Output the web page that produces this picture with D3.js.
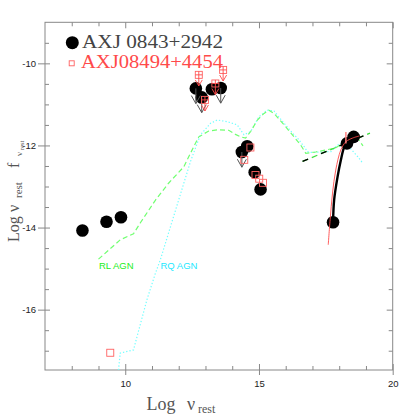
<!DOCTYPE html>
<html>
<head>
<meta charset="utf-8">
<script src="https://cdn.jsdelivr.net/npm/d3@7"></script>
<style>
body { margin: 0; background: #fff; }
</style>
</head>
<body>
<div id="container"></div>
<script>
// AXJ 0843+2942 photometry (log nu, log nu f_nu), 1 = upper limit
var axjX = [8.40, 9.30, 9.84, 12.64, 12.86, 13.24, 13.57, 14.56, 14.36, 14.84, 15.06, 17.77, 18.29, 18.54];
var axjY = [-14.07, -13.86, -13.75, -10.61, -10.83, -10.63, -10.60, -12.02, -12.16, -12.65, -13.07, -13.87, -11.95, -11.79];
var axjLimit = [0, 0, 0, 1, 1, 0, 1, 0, 1, 0, 0, 0, 0, 0];

// AXJ08494+4454 photometry
var axj2X = [12.75, 12.98, 13.37, 13.66, 14.68, 14.45, 14.87, 15.01, 15.15, 9.44];
var axj2Y = [-10.28, -10.89, -10.49, -10.16, -12.05, -12.35, -12.72, -12.81, -12.91, -17.05];
var axj2Limit = [1, 1, 1, 1, 0, 0, 0, 0, 0, 0];

// radio loud template
var rlX = [9.00, 9.81, 10.31, 10.56, 11.13, 11.62, 12.19, 12.56, 12.75, 13.12, 13.44, 13.87, 14.12, 14.31, 14.50, 14.69, 14.94, 15.19, 15.37, 15.56, 15.94, 16.31, 16.56, 16.75, 17.12, 17.87, 18.25, 18.51, 18.74, 18.89];
var rlY = [-14.77, -14.30, -14.15, -13.89, -13.33, -12.92, -12.52, -12.03, -11.79, -11.65, -11.62, -11.63, -11.73, -11.79, -11.82, -11.66, -11.38, -11.22, -11.14, -11.22, -11.50, -11.79, -11.99, -12.19, -12.16, -12.06, -11.89, -11.77, -11.87, -12.01];

// radio quiet template
var rqX = [9.75, 9.81, 10.31, 10.44, 10.81, 11.13, 11.31, 12.19, 12.44, 12.81, 13.19, 13.44, 13.81, 14.19, 14.44, 14.69, 15.00, 15.31, 15.56, 15.94, 16.31, 16.44, 16.69, 16.81, 16.94, 17.69, 17.94, 18.19, 18.36, 18.69, 18.88];
var rqY = [-17.47, -17.06, -16.98, -16.66, -15.76, -15.11, -14.79, -12.92, -12.39, -11.74, -11.46, -11.38, -11.42, -11.50, -11.74, -11.66, -11.30, -11.14, -11.16, -11.46, -11.74, -11.82, -12.03, -12.15, -12.17, -12.15, -11.99, -11.91, -12.03, -12.27, -12.43];

// x-ray models
var xrayBlackX = [17.77, 17.81, 17.94, 18.06, 18.19, 18.31, 18.56, 18.75];
var xrayBlackY = [-13.87, -13.33, -12.76, -12.36, -12.03, -11.91, -11.80, -11.79];
var xrayRedX = [17.59, 17.66, 17.75, 17.87, 18.06, 18.25, 18.50, 18.75];
var xrayRedY = [-14.42, -13.81, -13.16, -12.60, -12.11, -11.91, -11.82, -11.77];
var redErrX = [18.25];
var redErrLo = [-11.95];
var redErrHi = [-11.67];

// power law
var fitX = [16.63, 19.15];
var fitY = [-12.39, -11.70];

// ticks
var xMajor = [10, 15, 20];
var xMinor = [8, 9, 11, 12, 13, 14, 16, 17, 18, 19];
var yMajor = [-10, -12, -14, -16];
var yMinor = [-9.5, -10.5, -11, -11.5, -12.5, -13, -13.5, -14.5, -15, -15.5, -16.5, -17];

var init = function(){

    var W = 415, H = 415;
    var left = 45, right = 392.7, top = 22.3, bottom = 370;
    var frameColor = "#888";
    var red = "#ff4a4a";

    var container = d3.select("#container");
    container.html("");
    var svg = container.append("svg")
	.attr("width", W)
	.attr("height", H);

    var x = d3.scaleLinear().domain([7, 20]).range([left, right]);
    var y = d3.scaleLinear().domain([-9, -17.47]).range([top, bottom]);

    var noLabel = function(){ return ""; };
    var plain = function(d){ return String(d); };

    var style_axis = function(g){
	g.select(".domain").remove();
	g.selectAll("line").attr("stroke", frameColor);
	g.selectAll("text")
	    .attr("fill", "#222")
	    .style("font-family", "'Liberation Sans', Arial, sans-serif")
	    .style("font-size", "9.5px");
    };

    // bottom
    svg.append("g").attr("transform", "translate(0," + bottom + ")")
	.call(d3.axisBottom(x).tickValues(xMajor).tickSize(-6).tickPadding(10).tickFormat(plain))
	.call(style_axis);
    svg.append("g").attr("transform", "translate(0," + bottom + ")")
	.call(d3.axisBottom(x).tickValues(xMajor).tickSize(5).tickFormat(noLabel))
	.call(style_axis);
    svg.append("g").attr("transform", "translate(0," + bottom + ")")
	.call(d3.axisBottom(x).tickValues(xMinor).tickSize(-4).tickFormat(noLabel))
	.call(style_axis);
    // top
    svg.append("g").attr("transform", "translate(0," + top + ")")
	.call(d3.axisTop(x).tickValues(xMajor).tickSize(-6).tickFormat(noLabel))
	.call(style_axis);
    svg.append("g").attr("transform", "translate(0," + top + ")")
	.call(d3.axisTop(x).tickValues(xMinor).tickSize(-4).tickFormat(noLabel))
	.call(style_axis);
    // left
    svg.append("g").attr("transform", "translate(" + left + ",0)")
	.call(d3.axisLeft(y).tickValues(yMajor).tickSize(-5).tickPadding(9).tickFormat(plain))
	.call(style_axis);
    svg.append("g").attr("transform", "translate(" + left + ",0)")
	.call(d3.axisLeft(y).tickValues(yMajor).tickSize(7).tickFormat(noLabel))
	.call(style_axis);
    svg.append("g").attr("transform", "translate(" + left + ",0)")
	.call(d3.axisLeft(y).tickValues(yMinor).tickSize(-4).tickFormat(noLabel))
	.call(style_axis);
    // right
    svg.append("g").attr("transform", "translate(" + right + ",0)")
	.call(d3.axisRight(y).tickValues(yMajor).tickSize(-6).tickFormat(noLabel))
	.call(style_axis);
    svg.append("g").attr("transform", "translate(" + right + ",0)")
	.call(d3.axisRight(y).tickValues(yMinor).tickSize(-4).tickFormat(noLabel))
	.call(style_axis);

    svg.append("rect")
	.attr("x", left).attr("y", top)
	.attr("width", right - left).attr("height", bottom - top)
	.attr("fill", "none")
	.attr("stroke", frameColor)
	.attr("stroke-width", 1);

    var plot = svg.append("g");

    var zip = function(xs, ys){
	return xs.map(function(v, i){ return [v, ys[i]]; });
    };
    var line = d3.line()
	.x(function(d){ return x(d[0]); })
	.y(function(d){ return y(d[1]); });
    var smooth = d3.line()
	.x(function(d){ return x(d[0]); })
	.y(function(d){ return y(d[1]); })
	.curve(d3.curveCatmullRom);

    // templates
    plot.append("path")
	.attr("d", line(zip(rqX, rqY)))
	.attr("fill", "none")
	.attr("stroke", "#70ffff")
	.attr("stroke-width", 1.2)
	.attr("stroke-dasharray", "1.3,2");
    plot.append("path")
	.attr("d", line(zip(rlX, rlY)))
	.attr("fill", "none")
	.attr("stroke", "#70ff70")
	.attr("stroke-width", 1.2)
	.attr("stroke-dasharray", "5,3");

    // power law, green under black dashes
    plot.append("path")
	.attr("d", line(zip(fitX, fitY)))
	.attr("fill", "none")
	.attr("stroke", "#40e040")
	.attr("stroke-width", 1.3)
	.attr("stroke-dasharray", "6,4");
    plot.append("path")
	.attr("d", line(zip(fitX, fitY)))
	.attr("fill", "none")
	.attr("stroke", "#000")
	.attr("stroke-width", 1.3)
	.attr("stroke-dasharray", "6,14");

    // x-ray model for AXJ 0843
    plot.append("path")
	.attr("d", smooth(zip(xrayBlackX, xrayBlackY)))
	.attr("fill", "none")
	.attr("stroke", "#000")
	.attr("stroke-width", 2.4);

    // black points
    var pts = zip(axjX, axjY).map(function(p, i){ return {x: p[0], y: p[1], lim: axjLimit[i]}; });
    plot.selectAll("circle.axj")
	.data(pts)
	.enter().append("circle")
	.classed("axj", true)
	.attr("cx", function(d){ return x(d.x); })
	.attr("cy", function(d){ return y(d.y); })
	.attr("r", 6.3)
	.attr("fill", "#000");

    var arrows = plot.selectAll("g.lim")
	.data(pts.filter(function(d){ return d.lim == 1; }))
	.enter().append("g")
	.classed("lim", true)
	.attr("stroke", "#555")
	.attr("stroke-width", 1)
	.attr("fill", "none");
    arrows.append("path")
	.attr("d", function(d){
	    var cx = x(d.x), cy = y(d.y), tip = y(d.y - 0.37);
	    return "M" + cx + "," + cy + "V" + tip
		+ "M" + (cx - 4.5) + "," + (tip - 8) + "L" + cx + "," + tip + "L" + (cx + 4.5) + "," + (tip - 8);
	});

    // x-ray model for AXJ08494
    plot.append("path")
	.attr("d", smooth(zip(xrayRedX, xrayRedY)))
	.attr("fill", "none")
	.attr("stroke", red)
	.attr("stroke-width", 0.9);
    plot.selectAll("line.err")
	.data(redErrX)
	.enter().append("line")
	.classed("err", true)
	.attr("x1", function(d){ return x(d); })
	.attr("x2", function(d){ return x(d); })
	.attr("y1", function(d, i){ return y(redErrLo[i]); })
	.attr("y2", function(d, i){ return y(redErrHi[i]); })
	.attr("stroke", "#ff8080")
	.attr("stroke-width", 1.5);

    // red squares
    var pts2 = zip(axj2X, axj2Y).map(function(p, i){ return {x: p[0], y: p[1], lim: axj2Limit[i]}; });
    var sq = 3.5;
    plot.selectAll("rect.axj2")
	.data(pts2)
	.enter().append("rect")
	.classed("axj2", true)
	.attr("x", function(d){ return x(d.x) - sq; })
	.attr("y", function(d){ return y(d.y) - sq; })
	.attr("width", sq * 2)
	.attr("height", sq * 2)
	.attr("fill", "none")
	.attr("stroke", "#ff6060")
	.attr("stroke-width", 0.9);

    plot.selectAll("path.lim2")
	.data(pts2.filter(function(d){ return d.lim == 1; }))
	.enter().append("path")
	.classed("lim2", true)
	.attr("fill", "none")
	.attr("stroke", red)
	.attr("stroke-width", 0.9)
	.attr("d", function(d){
	    var cx = x(d.x), cy = y(d.y), tip = y(d.y - 0.27);
	    return "M" + (cx - sq) + "," + cy + "H" + (cx + sq)
		+ "M" + cx + "," + (cy - sq) + "V" + tip
		+ "M" + (cx - 3.5) + "," + (tip - 6) + "L" + cx + "," + tip + "L" + (cx + 3.5) + "," + (tip - 6);
	});

    // template labels
    var sans = "'Liberation Sans', Arial, sans-serif";
    plot.append("text")
	.attr("x", 99).attr("y", 268.5)
	.attr("fill", "#22ee22")
	.style("font-family", sans).style("font-size", "9.5px")
	.text("RL AGN");
    plot.append("text")
	.attr("x", 160.5).attr("y", 268.5)
	.attr("fill", "#22e8ff")
	.style("font-family", sans).style("font-size", "9.5px")
	.text("RQ AGN");

    // legend
    var serif = "'Liberation Serif', 'DejaVu Serif', serif";
    var legend = svg.append("g");
    legend.append("circle")
	.attr("cx", 72.3).attr("cy", 42.7).attr("r", 6.5)
	.attr("fill", "#000");
    legend.append("text")
	.attr("x", 82).attr("y", 48)
	.attr("fill", "#444")
	.attr("textLength", 141)
	.attr("lengthAdjust", "spacingAndGlyphs")
	.style("font-family", serif).style("font-size", "18px")
	.text("AXJ 0843+2942");
    legend.append("rect")
	.attr("x", 69.2).attr("y", 60.8).attr("width", 5).attr("height", 5)
	.attr("fill", "none").attr("stroke", "#ff6060").attr("stroke-width", 0.9);
    legend.append("text")
	.attr("x", 81).attr("y", 68)
	.attr("fill", red)
	.attr("textLength", 142)
	.attr("lengthAdjust", "spacingAndGlyphs")
	.style("font-family", serif).style("font-size", "18px")
	.text("AXJ08494+4454");

    // axis titles
    var xt = svg.append("text")
	.attr("x", 146.5).attr("y", 410)
	.attr("fill", "#555")
	.style("font-family", serif).style("font-size", "18px");
    xt.append("tspan").text("Log");
    xt.append("tspan").attr("x", 187).text("\u03bd");
    xt.append("tspan").attr("x", 198).attr("dy", 3).style("font-size", "12px").text("rest");

    var yt = svg.append("text")
	.attr("transform", "translate(18.5,242) rotate(-90)")
	.attr("fill", "#555")
	.style("font-family", serif).style("font-size", "16px");
    yt.append("tspan").attr("x", 0).text("Log");
    yt.append("tspan").attr("x", 30).text("\u03bd");
    yt.append("tspan").attr("x", 44).attr("dy", 3).style("font-size", "11px").text("rest");
    yt.append("tspan").attr("x", 74).attr("dy", -3).text("f");
    yt.append("tspan").attr("x", 86).attr("dy", 3).style("font-size", "9px").text("\u03bd");
    yt.append("tspan").attr("x", 92).attr("dy", 2).style("font-size", "6.5px").text("rest");
};

init();
</script>
</body>
</html>
